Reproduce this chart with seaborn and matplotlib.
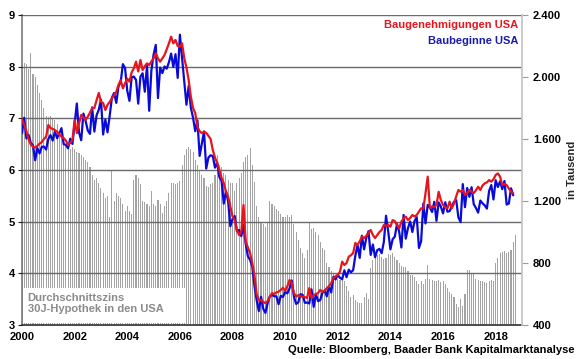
import matplotlib
matplotlib.use("Agg")
import matplotlib.pyplot as plt
import matplotlib.patches as mpatches
import numpy as np
import pandas as pd
import seaborn as sns

START_YEAR = 2000

# 30J-Hypothekenzins (%), monatlich ab Jan 2000
mortgage_rate = [
    8.07, 8.07, 8.05, 7.95, 8.27, 7.85, 7.80, 7.65, 7.50, 7.35, 7.20, 7.05,
    7.03, 7.05, 6.98, 6.97, 6.90, 6.78, 6.70, 6.62, 6.50, 6.45, 6.40, 6.45,
    6.40, 6.35, 6.33, 6.30, 6.25, 6.20, 6.15, 6.05, 5.90, 5.80, 5.85, 5.75,
    5.65, 5.55, 5.45, 5.50, 5.10, 6.00, 5.40, 5.55, 5.50, 5.45, 5.35, 5.20,
    5.30, 5.20, 5.15, 5.80, 5.90, 5.85, 5.72, 5.40, 5.38, 5.35, 5.30, 5.60,
    5.35, 5.30, 5.42, 5.35, 5.17, 5.30, 5.40, 5.55, 5.75, 5.75, 5.72, 5.75,
    5.78, 6.10, 6.30, 6.40, 6.45, 6.40, 6.35, 6.20, 6.10, 6.00, 5.90, 5.85,
    5.70, 5.68, 5.72, 5.75, 5.90, 6.30, 6.10, 6.05, 5.95, 5.90, 5.80, 5.75,
    5.75, 5.60, 5.75, 5.85, 5.95, 6.15, 6.25, 6.30, 6.42, 6.10, 5.77, 5.30,
    5.10, 5.00, 4.95, 4.90, 5.00, 5.40, 5.35, 5.30, 5.25, 5.20, 5.15, 5.10,
    5.10, 5.12, 5.10, 5.13, 4.95, 4.80, 4.65, 4.50, 4.40, 4.30, 4.45, 5.00,
    4.85, 4.88, 4.80, 4.75, 4.60, 4.50, 4.45, 4.20, 4.12, 4.05, 4.00, 3.95,
    3.90, 3.88, 3.92, 3.85, 3.75, 3.65, 3.55, 3.58, 3.48, 3.45, 3.43, 3.43,
    3.55, 3.62, 3.50, 4.10, 4.25, 4.40, 4.35, 4.38, 4.32, 4.28, 4.30, 4.38,
    4.35, 4.40, 4.32, 4.25, 4.20, 4.15, 4.12, 4.12, 4.05, 3.97, 3.97, 3.93,
    3.85, 3.80, 3.85, 3.80, 3.90, 4.16, 3.90, 3.88, 3.86, 3.85, 3.87, 3.83,
    3.85, 3.80, 3.72, 3.64, 3.60, 3.55, 3.40, 3.35, 3.50, 3.36, 3.60, 4.06,
    4.06, 4.00, 4.00, 3.90, 3.87, 3.85, 3.85, 3.83, 3.82, 3.85, 3.87, 3.85,
    4.20, 4.30, 4.40, 4.42, 4.43, 4.40, 4.42, 4.45, 4.60, 4.74,
]

# Baugenehmigungen USA (Tsd.), monatlich ab Jan 2000
permits = [
    1727, 1692, 1651, 1597, 1565, 1550, 1545, 1555, 1570, 1580, 1600, 1615,
    1690, 1671, 1665, 1658, 1647, 1630, 1615, 1606, 1590, 1561, 1575, 1594,
    1723, 1638, 1700, 1755, 1740, 1723, 1744, 1770, 1800, 1800, 1850, 1897,
    1840, 1832, 1787, 1820, 1840, 1862, 1885, 1905, 1950, 1980, 1927, 1960,
    1990, 1970, 2030, 2056, 2099, 2036, 2110, 2045, 2070, 2088, 2077, 2100,
    2120, 2153, 2120, 2099, 2120, 2142, 2180, 2217, 2260, 2217, 2239, 2200,
    2197, 2217, 2120, 2060, 1980, 1873, 1800, 1767, 1679, 1650, 1638, 1647,
    1640, 1620, 1600, 1529, 1480, 1445, 1400, 1350, 1316, 1260, 1228, 1163,
    1100, 1077, 1013, 980, 1002, 1174, 940, 900, 864, 800, 720, 600,
    560, 561, 550, 540, 555, 580, 606, 600, 610, 615, 626, 640,
    620, 650, 690, 671, 606, 583, 593, 583, 583, 580, 574, 638,
    574, 593, 600, 606, 626, 615, 620, 638, 650, 671, 703, 715,
    723, 744, 809, 787, 800, 841, 850, 864, 929, 916, 940, 970,
    961, 975, 993, 1013, 980, 961, 980, 1000, 1013, 1045, 1040, 1045,
    1034, 1077, 1070, 1045, 1024, 1067, 1088, 1099, 1077, 1090, 1110, 1100,
    1110, 1131, 1153, 1150, 1250, 1357, 1155, 1165, 1160, 1175, 1260, 1206,
    1174, 1160, 1153, 1196, 1153, 1185, 1230, 1271, 1260, 1271, 1239, 1250,
    1271, 1260, 1250, 1270, 1292, 1271, 1300, 1314, 1320, 1335, 1325, 1340,
    1368, 1378, 1357, 1303, 1310, 1303, 1280, 1260, 1250,
]

# Baubeginne USA (Tsd.), monatlich ab Jan 2000
starts = [
    1636, 1737, 1604, 1626, 1575, 1559, 1463, 1541, 1507, 1549, 1551, 1532,
    1600, 1625, 1590, 1649, 1605, 1636, 1670, 1567, 1562, 1540, 1602, 1568,
    1698, 1829, 1642, 1592, 1764, 1717, 1655, 1633, 1804, 1648, 1753, 1788,
    1853, 1629, 1726, 1643, 1751, 1867, 1897, 1833, 1939, 1967, 2083, 2057,
    1911, 1846, 1998, 2003, 1981, 1828, 2002, 2024, 1905, 2072, 1782, 2042,
    2144, 2207, 1864, 2061, 2025, 2068, 2054, 2095, 2151, 2065, 2147, 1994,
    2273, 2119, 1969, 1821, 1942, 1802, 1737, 1650, 1720, 1491, 1570, 1649,
    1409, 1480, 1495, 1490, 1415, 1448, 1354, 1330, 1183, 1264, 1197, 1037,
    1084, 1103, 1005, 1013, 973, 1046, 923, 844, 820, 777, 652, 560,
    490, 582, 505, 478, 540, 585, 594, 586, 585, 534, 588, 581,
    614, 604, 636, 687, 583, 536, 546, 599, 594, 543, 545, 539,
    630, 517, 600, 554, 561, 608, 623, 585, 650, 610, 711, 694,
    723, 704, 695, 753, 708, 757, 740, 754, 847, 915, 833, 976,
    888, 962, 1005, 852, 919, 837, 883, 891, 863, 936, 1105, 1003,
    888, 953, 970, 1052, 1001, 900, 1110, 957, 1025, 1068, 1000, 1071,
    1096, 897, 940, 1184, 1055, 1175, 1157, 1129, 1195, 1072, 1191, 1164,
    1120, 1192, 1131, 1135, 1166, 1195, 1205, 1094, 1064, 1309, 1160, 1284,
    1227, 1289, 1179, 1155, 1125, 1203, 1185, 1172, 1151, 1265, 1303, 1210,
    1334, 1290, 1327, 1276, 1329, 1177, 1184, 1282, 1237,
]

x_ticks = list(range(2000, 2019, 2))
left_ticks = [3, 4, 5, 6, 7, 8, 9]
right_ticks = [400, 800, 1200, 1600, 2000, 2400]
right_tick_labels = ["400", "800", "1.200", "1.600", "2.000", "2.400"]

sns.set_theme(style="white")
plt.rcParams["font.family"] = ["Liberation Sans", "DejaVu Sans"]
plt.rcParams["font.weight"] = "bold"

rate_df = pd.DataFrame({
    "t": START_YEAR + np.arange(len(mortgage_rate)) / 12,
    "rate": mortgage_rate,
})
house_df = pd.DataFrame({
    "t": START_YEAR + np.arange(len(permits)) / 12,
    "permits": permits,
    "starts": starts,
})

fig = plt.figure(figsize=(5.8, 3.59), dpi=100)
ax = fig.add_axes([22 / 580, 34 / 359, 500 / 580, 310 / 359])

sns.barplot(data=rate_df, x="t", y="rate", native_scale=True, width=0.5,
            color="#a3a3a3", saturation=1, linewidth=0, errorbar=None, ax=ax)
ax.set_xlim(2000, 2019)
ax.set_ylim(3, 9)
ax.set_xticks(x_ticks)
ax.set_xticklabels([str(t) for t in x_ticks])
ax.set_yticks(left_ticks)
ax.set_xlabel("")
ax.set_ylabel("")
ax.set_axisbelow(False)
ax.yaxis.grid(True, color="#6a6a6a", linewidth=1.0)
ax.xaxis.grid(False)
ax.tick_params(axis="both", labelsize=8, length=3, width=0.8, direction="out",
               colors="#222222", pad=2)
ax.tick_params(axis="x", labelcolor="black")
ax.tick_params(axis="y", labelcolor="black")
for lab in ax.get_xticklabels() + ax.get_yticklabels():
    lab.set_fontweight("bold")
ax.spines["top"].set_visible(False)
ax.spines["right"].set_visible(False)
ax.spines["left"].set_color("#808080")
ax.spines["bottom"].set_color("#333333")

# Textkasten unten links
box = mpatches.Rectangle((0.004, 0.006), 0.322, 0.113, transform=ax.transAxes,
                         facecolor="white", edgecolor="none", zorder=4)
ax.add_patch(box)
ax.text(0.011, 0.07, "Durchschnittszins\n30J-Hypothek in den USA",
        transform=ax.transAxes, ha="left", va="center", fontsize=8,
        fontweight="bold", color="#8a8a8a", linespacing=1.15, zorder=5)

ax2 = ax.twinx()
sns.lineplot(data=house_df, x="t", y="starts", color="#0a0ad8", linewidth=1.6, ax=ax2)
sns.lineplot(data=house_df, x="t", y="permits", color="#e8141b", linewidth=1.6, ax=ax2)
ax2.set_xlim(2000, 2019)
ax2.set_ylim(400, 2400)
ax2.set_yticks(right_ticks)
ax2.set_yticklabels(right_tick_labels)
ax2.set_xlabel("")
ax2.set_ylabel("in Tausend", fontsize=8, fontweight="bold", labelpad=4)
ax2.tick_params(axis="y", labelsize=8, length=4, width=0.8, direction="out",
                colors="#9a9a9a", labelcolor="black", pad=4)
for lab in ax2.get_yticklabels():
    lab.set_fontweight("bold")
for side in ["top", "left", "bottom"]:
    ax2.spines[side].set_visible(False)
ax2.spines["right"].set_color("#c4c4c4")

ax2.text(0.992, 0.968, "Baugenehmigungen USA", transform=ax2.transAxes,
         ha="right", va="center", fontsize=8, fontweight="bold", color="#e8141b")
ax2.text(0.992, 0.916, "Baubeginne USA", transform=ax2.transAxes,
         ha="right", va="center", fontsize=8, fontweight="bold", color="#1a1ab0")

fig.text(0.991, 0.025, "Quelle: Bloomberg, Baader Bank Kapitalmarktanalyse",
         ha="right", va="center", fontsize=8, fontweight="bold", color="black")

fig.savefig("out.png", dpi=100)
